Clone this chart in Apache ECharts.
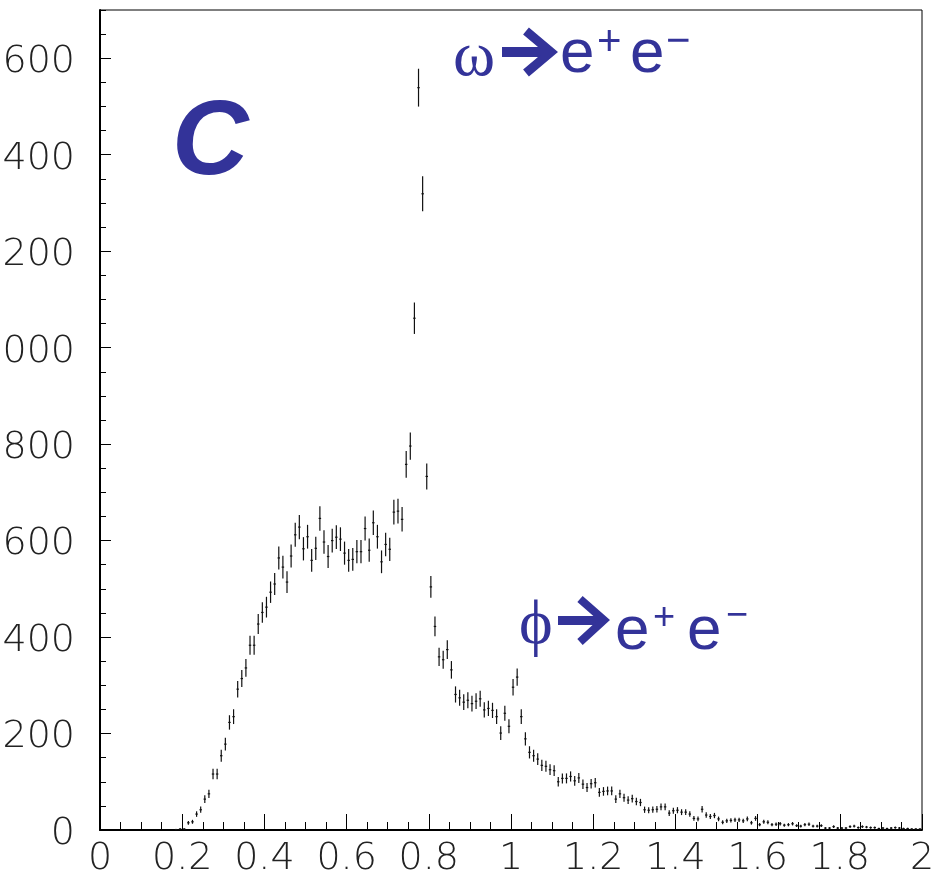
<!DOCTYPE html>
<html><head><meta charset="utf-8">
<script src="https://cdn.jsdelivr.net/npm/echarts@6/dist/echarts.min.js"></script>
<style>html,body{margin:0;padding:0;background:#fff}#c{width:933px;height:871px}</style>
</head><body><div id="c"></div>
<script>
// Histogram definition: 200 bins of width 0.01 from 0 to 2
const binLow = 0;
const binWidth = 0.01;
// Counts per bin
const counts = [
  0,0,0,0,0,0,0,0,0,0,
  0,0,0,0,0,0,0,0,1,2,
  2,15,17,33,42,64,75,116,116,154,
  178,223,235,292,314,336,383,383,427,451,
  462,493,510,564,545,514,568,612,628,583,
  608,559,584,646,597,567,600,607,603,574,
  559,561,577,577,625,580,637,608,556,592,
  582,659,661,644,758,796,1061,1539,1319,733,
  504,422,359,353,374,332,281,274,265,269,
  262,267,272,249,252,248,235,201,242,215,
  296,317,235,189,161,154,147,134,132,125,
  123,100,107,107,111,102,108,95,88,96,
  98,78,80,81,81,64,75,67,62,65,
  59,57,42,41,42,43,48,48,35,40,
  41,37,37,33,24,23,43,31,28,30,
  23,16,19,20,21,21,19,23,15,24,
  11,17,16,11,12,13,10,11,13,9,
  8,11,12,8,8,9,4,4,7,4,
  4,4,7,8,5,7,6,5,5,3,
  4,3,4,5,4,3,3,2,2,2
];
const xTickLabels = ['0','0.2','0.4','0.6','0.8','1','1.2','1.4','1.6','1.8','2'];
const yTickValues = [0,200,400,600,800,1000,1200,1400,1600];
const yTickLabels = ['0','200','400','600','800','000','200','400','600'];

const points = [];
counts.forEach((c, i) => { if (c > 0) points.push([binLow + (i + 0.5) * binWidth, c]); });

const blue = '#333399';
const labelFont = { fontFamily: '"DejaVu Sans"', fontWeight: 200, fontSize: 38, color: '#222' };

const chart = echarts.init(document.getElementById('c'));
chart.setOption({
  animation: false,
  backgroundColor: '#fff',
  grid: { left: 100, right: 11, top: 10, bottom: 41, show: true, borderColor: '#000', borderWidth: 1, containLabel: false, outerBoundsMode: 'none' },
  xAxis: {
    type: 'value', min: 0, max: 2, interval: 0.2,
    axisLine: { show: true, lineStyle: { color: '#000', width: 2 } },
    axisTick: { show: true, inside: true, length: 16, lineStyle: { color: '#000', width: 1 } },
    minorTick: { show: true, splitNumber: 4, length: 8, lineStyle: { color: '#000', width: 1 } },
    splitLine: { show: false },
    axisLabel: Object.assign({ margin: 10, formatter: v => { const k = Math.round(v / 0.2); return xTickLabels[k] !== undefined ? xTickLabels[k] : ''; } }, labelFont)
  },
  yAxis: [{
    type: 'value', min: 0, max: 1700, interval: 200,
    axisLine: { show: true, lineStyle: { color: '#000', width: 2 } },
    axisTick: { show: true, inside: true, length: 11, lineStyle: { color: '#000', width: 1 } },
    splitLine: { show: false },
    axisLabel: Object.assign({ margin: 25, verticalAlign: 'top', lineHeight: 8, showMaxLabel: false, formatter: v => { const k = yTickValues.indexOf(v); return k >= 0 ? yTickLabels[k] : ''; } }, labelFont)
  }, {
    type: 'value', min: 0, max: 1700, interval: 50, position: 'left',
    axisLine: { show: false },
    axisTick: { show: true, inside: true, length: 6, lineStyle: { color: '#000', width: 1 } },
    splitLine: { show: false },
    axisLabel: { show: false }
  }],
  series: [{
    type: 'custom',
    data: points,
    encode: { x: 0, y: 1 },
    renderItem: function (params, api) {
      const x = api.value(0), y = api.value(1), e = Math.sqrt(y);
      const pT = api.coord([x, y + e]);
      const pB = api.coord([x, Math.max(0, y - e)]);
      const pL = api.coord([x - binWidth * 0.3, y]);
      const pR = api.coord([x + binWidth * 0.3, y]);
      return { type: 'group', children: [
        { type: 'line', shape: { x1: pT[0], y1: pT[1], x2: pB[0], y2: pB[1] }, style: { stroke: '#111', lineWidth: 1.2 } },
        { type: 'line', shape: { x1: pL[0], y1: pL[1], x2: pR[0], y2: pR[1] }, style: { stroke: '#111', lineWidth: 1.2 } }
      ] };
    }
  }],
  graphic: [
    { type: 'text', style: { text: 'C', x: 172, y: 145, fill: blue, font: 'italic bold 106px "Liberation Sans"', verticalAlign: 'middle' } },
    // omega label
    { type: 'text', style: { text: 'ω', x: 453, y: 58, fill: blue, font: '64px "Liberation Serif"', verticalAlign: 'middle' } },
    { type: 'rect', shape: { x: 502, y: 47, width: 44, height: 10 }, style: { fill: blue } },
    { type: 'polyline', shape: { points: [[526, 31], [551, 52], [526, 73]] }, style: { stroke: blue, lineWidth: 9, fill: null } },
    { type: 'text', style: { text: 'e', x: 560, y: 55, fill: blue, font: '62px "Liberation Sans"', verticalAlign: 'middle' } },
    { type: 'text', style: { text: '+', x: 597, y: 43, fill: blue, font: '42px "Liberation Sans"', verticalAlign: 'middle' } },
    { type: 'text', style: { text: 'e', x: 630, y: 55, fill: blue, font: '62px "Liberation Sans"', verticalAlign: 'middle' } },
    { type: 'text', style: { text: '−', x: 666, y: 42, fill: blue, font: '42px "Liberation Sans"', verticalAlign: 'middle' } },
    // phi label
    { type: 'text', style: { text: 'ϕ', x: 519, y: 626, fill: blue, font: '64px "Liberation Serif"', verticalAlign: 'middle' } },
    { type: 'rect', shape: { x: 558, y: 616, width: 42, height: 9 }, style: { fill: blue } },
    { type: 'polyline', shape: { points: [[580, 599], [604, 620], [580, 642]] }, style: { stroke: blue, lineWidth: 8, fill: null } },
    { type: 'text', style: { text: 'e', x: 615, y: 632, fill: blue, font: '62px "Liberation Sans"', verticalAlign: 'middle' } },
    { type: 'text', style: { text: '+', x: 653, y: 619, fill: blue, font: '38px "Liberation Sans"', verticalAlign: 'middle' } },
    { type: 'text', style: { text: 'e', x: 687, y: 632, fill: blue, font: '62px "Liberation Sans"', verticalAlign: 'middle' } },
    { type: 'text', style: { text: '−', x: 726, y: 617, fill: blue, font: '38px "Liberation Sans"', verticalAlign: 'middle' } }
  ]
});
</script>
</body></html>
